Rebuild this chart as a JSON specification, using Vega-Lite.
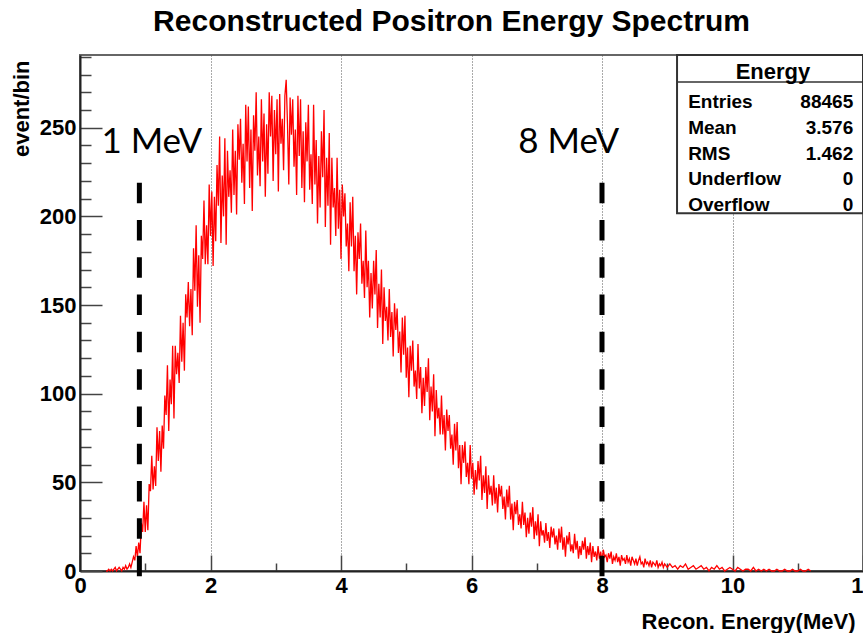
{
  "$schema": "https://vega.github.io/schema/vega-lite/v6.json",
  "width": 783,
  "height": 516,
  "autosize": {"type": "none"},
  "padding": {"left": 80, "top": 55, "right": 0, "bottom": 62},
  "title": {"text": "Reconstructed Positron Energy Spectrum", "font": "Liberation Sans", "fontSize": 30, "fontWeight": "bold", "color": "#000000", "anchor": "middle", "dx": -20, "dy": 37, "offset": 22, "baseline": "alphabetic"},
  "config": {
    "font": "Liberation Sans",
    "view": {"stroke": "#666666", "strokeWidth": 2},
    "axis": {"labelFont": "Liberation Sans", "labelFontWeight": "bold", "labelFontSize": 22, "labelColor": "#000000", "titleFont": "Liberation Sans", "titleFontWeight": "bold", "titleFontSize": 22, "titleColor": "#000000", "domainColor": "#222222", "domainWidth": 2, "tickColor": "#444444", "tickWidth": 1.5}
  },
  "resolve": {"scale": {"y": "independent"}, "axis": {"y": "independent"}},
  "layer": [
    {
      "layer": [
        {
          "data": {"values": [
{"e":0.4,"n":0},{"e":0.42,"n":0},{"e":0.44,"n":1},{"e":0.46,"n":0},{"e":0.48,"n":1},{"e":0.5,"n":0},{"e":0.52,"n":1},{"e":0.54,"n":2},{"e":0.56,"n":0},{"e":0.58,"n":1},{"e":0.6,"n":2},{"e":0.62,"n":1},{"e":0.64,"n":0},{"e":0.66,"n":2},{"e":0.68,"n":1},{"e":0.7,"n":3},{"e":0.72,"n":1},{"e":0.74,"n":2},{"e":0.76,"n":4},{"e":0.78,"n":2},{"e":0.8,"n":5},{"e":0.82,"n":8},{"e":0.84,"n":6},
{"e":0.86,"n":14},{"e":0.88,"n":8},{"e":0.9,"n":16},{"e":0.92,"n":10},{"e":0.94,"n":27},{"e":0.96,"n":22},{"e":0.98,"n":39},{"e":1.0,"n":22},{"e":1.02,"n":37},{"e":1.04,"n":23},{"e":1.06,"n":49},{"e":1.08,"n":45},{"e":1.1,"n":65},{"e":1.12,"n":46},{"e":1.14,"n":59},{"e":1.16,"n":48},{"e":1.18,"n":81},{"e":1.2,"n":62},{"e":1.22,"n":79},{"e":1.24,"n":56},{"e":1.26,"n":82},{"e":1.28,"n":69},{"e":1.3,"n":99},{"e":1.32,"n":88},{"e":1.34,"n":116},{"e":1.36,"n":79},{"e":1.38,"n":108},{"e":1.4,"n":94},{"e":1.42,"n":127},{"e":1.44,"n":86},{"e":1.46,"n":127},{"e":1.48,"n":111},{"e":1.5,"n":123},{"e":1.52,"n":106},{"e":1.54,"n":144},{"e":1.56,"n":118},{"e":1.58,"n":140},{"e":1.6,"n":113},{"e":1.62,"n":156},{"e":1.64,"n":143},{"e":1.66,"n":163},{"e":1.68,"n":138},{"e":1.7,"n":159},{"e":1.72,"n":133},{"e":1.74,"n":182},{"e":1.76,"n":158},{"e":1.78,"n":195},{"e":1.8,"n":149},{"e":1.82,"n":178},{"e":1.84,"n":140},{"e":1.86,"n":189},{"e":1.88,"n":176},{"e":1.9,"n":209},{"e":1.92,"n":173},{"e":1.94,"n":195},{"e":1.96,"n":173},{"e":1.98,"n":218},{"e":2.0,"n":189},
{"e":2.02,"n":214},{"e":2.04,"n":172},{"e":2.06,"n":211},{"e":2.08,"n":186},{"e":2.1,"n":229},{"e":2.12,"n":206},{"e":2.14,"n":245},{"e":2.16,"n":185},{"e":2.18,"n":223},{"e":2.2,"n":200},{"e":2.22,"n":244},{"e":2.24,"n":184},{"e":2.26,"n":237},{"e":2.28,"n":211},{"e":2.3,"n":226},{"e":2.32,"n":202},{"e":2.34,"n":249},{"e":2.36,"n":212},{"e":2.38,"n":237},{"e":2.4,"n":201},{"e":2.42,"n":252},{"e":2.44,"n":232},{"e":2.46,"n":255},{"e":2.48,"n":219},{"e":2.5,"n":241},{"e":2.52,"n":207},{"e":2.54,"n":263},{"e":2.56,"n":231},{"e":2.58,"n":262},{"e":2.6,"n":216},{"e":2.62,"n":249},{"e":2.64,"n":203},{"e":2.66,"n":257},{"e":2.68,"n":237},{"e":2.7,"n":270},{"e":2.72,"n":223},{"e":2.74,"n":245},{"e":2.76,"n":217},{"e":2.78,"n":266},{"e":2.8,"n":231},{"e":2.82,"n":258},{"e":2.84,"n":211},{"e":2.86,"n":252},{"e":2.88,"n":224},{"e":2.9,"n":270},{"e":2.92,"n":245},{"e":2.94,"n":268},{"e":2.96,"n":220},{"e":2.98,"n":260},{"e":3.0,"n":235},
{"e":3.02,"n":266},{"e":3.04,"n":214},{"e":3.06,"n":269},{"e":3.08,"n":241},{"e":3.1,"n":255},{"e":3.12,"n":226},{"e":3.14,"n":268},{"e":3.16,"n":277},{"e":3.18,"n":252},{"e":3.2,"n":218},{"e":3.22,"n":267},{"e":3.24,"n":246},{"e":3.26,"n":266},{"e":3.28,"n":228},{"e":3.3,"n":249},{"e":3.32,"n":212},{"e":3.34,"n":268},{"e":3.36,"n":234},{"e":3.38,"n":266},{"e":3.4,"n":216},{"e":3.42,"n":248},{"e":3.44,"n":208},{"e":3.46,"n":253},{"e":3.48,"n":231},{"e":3.5,"n":263},{"e":3.52,"n":215},{"e":3.54,"n":235},{"e":3.56,"n":207},{"e":3.58,"n":263},{"e":3.6,"n":218},{"e":3.62,"n":243},{"e":3.64,"n":196},{"e":3.66,"n":234},{"e":3.68,"n":205},{"e":3.7,"n":248},{"e":3.72,"n":222},{"e":3.74,"n":260},{"e":3.76,"n":194},{"e":3.78,"n":233},{"e":3.8,"n":206},{"e":3.82,"n":247},{"e":3.84,"n":184},{"e":3.86,"n":233},{"e":3.88,"n":205},{"e":3.9,"n":216},{"e":3.92,"n":189},{"e":3.94,"n":233},{"e":3.96,"n":193},{"e":3.98,"n":215},{"e":4.0,"n":176},
{"e":4.02,"n":218},{"e":4.04,"n":200},{"e":4.06,"n":213},{"e":4.08,"n":183},{"e":4.1,"n":196},{"e":4.12,"n":169},{"e":4.14,"n":208},{"e":4.16,"n":183},{"e":4.18,"n":211},{"e":4.2,"n":169},{"e":4.22,"n":189},{"e":4.24,"n":156},{"e":4.26,"n":191},{"e":4.28,"n":176},{"e":4.3,"n":196},{"e":4.32,"n":162},{"e":4.34,"n":175},{"e":4.36,"n":154},{"e":4.38,"n":192},{"e":4.4,"n":160},{"e":4.42,"n":175},{"e":4.44,"n":143},{"e":4.46,"n":168},{"e":4.48,"n":148},{"e":4.5,"n":175},{"e":4.52,"n":156},{"e":4.54,"n":181},{"e":4.56,"n":137},{"e":4.58,"n":162},{"e":4.6,"n":143},{"e":4.62,"n":170},{"e":4.64,"n":128},{"e":4.66,"n":160},{"e":4.68,"n":141},{"e":4.7,"n":149},{"e":4.72,"n":130},{"e":4.74,"n":159},{"e":4.76,"n":132},{"e":4.78,"n":146},{"e":4.8,"n":121},{"e":4.82,"n":151},{"e":4.84,"n":136},{"e":4.86,"n":148},{"e":4.88,"n":123},{"e":4.9,"n":135},{"e":4.92,"n":112},{"e":4.94,"n":143},{"e":4.96,"n":122},{"e":4.98,"n":144},{"e":5.0,"n":109},
{"e":5.02,"n":126},{"e":5.04,"n":98},{"e":5.06,"n":127},{"e":5.08,"n":113},{"e":5.1,"n":130},{"e":5.12,"n":104},{"e":5.14,"n":113},{"e":5.16,"n":97},{"e":5.18,"n":128},{"e":5.2,"n":103},{"e":5.22,"n":115},{"e":5.24,"n":89},{"e":5.26,"n":109},{"e":5.28,"n":93},{"e":5.3,"n":115},{"e":5.32,"n":101},{"e":5.34,"n":120},{"e":5.36,"n":85},{"e":5.38,"n":104},{"e":5.4,"n":90},{"e":5.42,"n":111},{"e":5.44,"n":76},{"e":5.46,"n":102},{"e":5.48,"n":86},{"e":5.5,"n":92},{"e":5.52,"n":77},{"e":5.54,"n":99},{"e":5.56,"n":77},{"e":5.58,"n":88},{"e":5.6,"n":68},{"e":5.62,"n":91},{"e":5.64,"n":79},{"e":5.66,"n":88},{"e":5.68,"n":69},{"e":5.7,"n":77},{"e":5.72,"n":60},{"e":5.74,"n":83},{"e":5.76,"n":68},{"e":5.78,"n":84},{"e":5.8,"n":58},{"e":5.82,"n":71},{"e":5.84,"n":49},{"e":5.86,"n":71},{"e":5.88,"n":61},{"e":5.9,"n":73},{"e":5.92,"n":53},{"e":5.94,"n":61},{"e":5.96,"n":49},{"e":5.98,"n":71},{"e":6.0,"n":52},
{"e":6.02,"n":61},{"e":6.04,"n":43},{"e":6.06,"n":57},{"e":6.08,"n":46},{"e":6.1,"n":62},{"e":6.12,"n":51},{"e":6.14,"n":65},{"e":6.16,"n":40},{"e":6.18,"n":54},{"e":6.2,"n":44},{"e":6.22,"n":59},{"e":6.24,"n":35},{"e":6.26,"n":54},{"e":6.28,"n":43},{"e":6.3,"n":48},{"e":6.32,"n":37},{"e":6.34,"n":54},{"e":6.36,"n":38},{"e":6.38,"n":47},{"e":6.4,"n":33},{"e":6.42,"n":49},{"e":6.44,"n":42},{"e":6.46,"n":48},{"e":6.48,"n":35},{"e":6.5,"n":42},{"e":6.52,"n":29},{"e":6.54,"n":46},{"e":6.56,"n":36},{"e":6.58,"n":48},{"e":6.6,"n":29},{"e":6.62,"n":38},{"e":6.64,"n":23},{"e":6.66,"n":39},{"e":6.68,"n":32},{"e":6.7,"n":40},{"e":6.72,"n":26},{"e":6.74,"n":32},{"e":6.76,"n":24},{"e":6.78,"n":39},{"e":6.8,"n":26},{"e":6.82,"n":33},{"e":6.84,"n":19},{"e":6.86,"n":30},{"e":6.88,"n":21},{"e":6.9,"n":33},{"e":6.92,"n":25},{"e":6.94,"n":36},{"e":6.96,"n":18},{"e":6.98,"n":28},{"e":7.0,"n":20},
{"e":7.02,"n":32},{"e":7.04,"n":14},{"e":7.06,"n":28},{"e":7.08,"n":20},{"e":7.1,"n":23},{"e":7.12,"n":16},{"e":7.14,"n":27},{"e":7.16,"n":17},{"e":7.18,"n":22},{"e":7.2,"n":13},{"e":7.22,"n":25},{"e":7.24,"n":19},{"e":7.26,"n":24},{"e":7.28,"n":15},{"e":7.3,"n":20},{"e":7.32,"n":12},{"e":7.34,"n":24},{"e":7.36,"n":16},{"e":7.38,"n":25},{"e":7.4,"n":12},{"e":7.42,"n":19},{"e":7.44,"n":8},{"e":7.46,"n":20},{"e":7.48,"n":15},{"e":7.5,"n":22},{"e":7.52,"n":11},{"e":7.54,"n":15},{"e":7.56,"n":10},{"e":7.58,"n":21},{"e":7.6,"n":12},{"e":7.62,"n":17},{"e":7.64,"n":7},{"e":7.66,"n":14},{"e":7.68,"n":9},{"e":7.7,"n":17},{"e":7.72,"n":12},{"e":7.74,"n":19},{"e":7.76,"n":7},{"e":7.78,"n":14},{"e":7.8,"n":9},{"e":7.82,"n":16},{"e":7.84,"n":5},{"e":7.86,"n":14},{"e":7.88,"n":8},{"e":7.9,"n":11},{"e":7.92,"n":6},{"e":7.94,"n":14},{"e":7.96,"n":7},{"e":7.98,"n":11},{"e":8.0,"n":5},
{"e":8.02,"n":12},{"e":8.04,"n":8},{"e":8.06,"n":9},{"e":8.08,"n":5},{"e":8.1,"n":10},{"e":8.12,"n":7},{"e":8.14,"n":11},{"e":8.16,"n":4},{"e":8.18,"n":8},{"e":8.2,"n":6},{"e":8.22,"n":10},{"e":8.24,"n":5},{"e":8.26,"n":8},{"e":8.28,"n":3},{"e":8.3,"n":9},{"e":8.32,"n":6},{"e":8.34,"n":7},{"e":8.36,"n":4},{"e":8.38,"n":9},{"e":8.4,"n":5},{"e":8.42,"n":7},{"e":8.44,"n":3},{"e":8.46,"n":8},{"e":8.48,"n":6},{"e":8.5,"n":4},{"e":8.52,"n":7},{"e":8.54,"n":3},{"e":8.56,"n":6},{"e":8.58,"n":8},{"e":8.6,"n":4},{"e":8.62,"n":5},{"e":8.64,"n":2},{"e":8.66,"n":7},{"e":8.68,"n":4},{"e":8.7,"n":5},{"e":8.72,"n":3},{"e":8.74,"n":6},{"e":8.76,"n":2},{"e":8.78,"n":5},{"e":8.8,"n":4},{"e":8.82,"n":3},{"e":8.84,"n":6},{"e":8.86,"n":2},{"e":8.88,"n":4},{"e":8.9,"n":3},{"e":8.92,"n":5},{"e":8.94,"n":2},{"e":8.96,"n":4},{"e":8.98,"n":3},{"e":9.0,"n":2},
{"e":9.04,"n":4},{"e":9.08,"n":2},{"e":9.12,"n":3},{"e":9.16,"n":1},{"e":9.2,"n":3},{"e":9.24,"n":2},{"e":9.28,"n":4},{"e":9.32,"n":1},{"e":9.36,"n":2},{"e":9.4,"n":3},{"e":9.44,"n":1},{"e":9.48,"n":2},{"e":9.52,"n":3},{"e":9.56,"n":1},{"e":9.6,"n":2},{"e":9.64,"n":0},{"e":9.68,"n":2},{"e":9.72,"n":1},{"e":9.76,"n":3},{"e":9.8,"n":1},{"e":9.84,"n":2},{"e":9.88,"n":0},{"e":9.92,"n":1},{"e":9.96,"n":2},{"e":10.0,"n":1},{"e":10.04,"n":0},{"e":10.08,"n":2},{"e":10.12,"n":1},{"e":10.16,"n":0},{"e":10.2,"n":1},{"e":10.24,"n":1},{"e":10.28,"n":0},{"e":10.32,"n":2},{"e":10.36,"n":0},{"e":10.4,"n":1},{"e":10.44,"n":0},{"e":10.48,"n":1},{"e":10.52,"n":0},{"e":10.56,"n":1},{"e":10.6,"n":0},{"e":10.64,"n":0},{"e":10.68,"n":1},{"e":10.72,"n":0},{"e":10.76,"n":0},{"e":10.8,"n":1},{"e":10.84,"n":0},{"e":10.88,"n":0},{"e":10.92,"n":1},{"e":10.96,"n":0},{"e":11.0,"n":0},{"e":11.04,"n":1},{"e":11.08,"n":0},{"e":11.12,"n":0},{"e":11.16,"n":1},{"e":11.2,"n":0}
          ]},
          "mark": {"type": "line", "color": "#ff0000", "strokeWidth": 1.3},
          "encoding": {
            "x": {"field": "e", "type": "quantitative", "scale": {"domain": [0, 12], "nice": false, "zero": false},
              "axis": {
                "values": [0,0.5,1,1.5,2,2.5,3,3.5,4,4.5,5,5.5,6,6.5,7,7.5,8,8.5,9,9.5,10,10.5,11,11.5,12],
                "tickCount": 200,
                "format": "d",
                "labelExpr": "datum.value % 2 === 0 ? datum.label : ''",
                "tickSize": {"condition": {"test": "datum.value % 2 === 0", "value": -16}, "value": -8},
                "grid": true,
                "gridDash": [1, 2],
                "gridColor": "#555555",
                "gridWidth": 1,
                "gridOpacity": {"condition": {"test": "datum.value % 2 === 0 && datum.value > 0 && datum.value < 12", "value": 1}, "value": 0},
                "labelFlush": false,
                "labelOverlap": false,
                "labelPadding": 20,
                "title": "Recon. Energy(MeV)",
                "titleAnchor": "end",
                "titleAlign": "right",
                "titleBaseline": "alphabetic",
                "titleX": 775,
                "titleY": 57
              }},
            "y": {"field": "n", "type": "quantitative", "scale": {"domain": [0, 291], "nice": false, "zero": true},
              "axis": {
                "values": [0,10,20,30,40,50,60,70,80,90,100,110,120,130,140,150,160,170,180,190,200,210,220,230,240,250,260,270,280,290],
                "tickCount": 200,
                "format": "d",
                "labelExpr": "datum.value % 50 === 0 ? datum.label : ''",
                "tickSize": {"condition": {"test": "datum.value % 50 === 0", "value": -22}, "value": -11},
                "grid": false,
                "labelOverlap": false,
                "labelPadding": 26,
                "title": "event/bin",
                "titleAngle": -90,
                "titleAlign": "right",
                "titleBaseline": "top",
                "titleX": -69,
                "titleY": 5
              }}
          }
        },
        {
          "data": {"values": [{"e": 0.91, "label": "1 MeV"}, {"e": 8.0, "label": "8 MeV"}]},
          "layer": [
            {
              "mark": {"type": "rule", "color": "#000000", "strokeWidth": 5, "strokeDash": [20.5, 16.8]},
              "encoding": {
                "x": {"field": "e", "type": "quantitative"},
                "y": {"datum": 219, "type": "quantitative"},
                "y2": {"datum": -4.5}
              }
            },
            {
              "transform": [{"filter": "datum.label === '1 MeV'"}],
              "mark": {"type": "text", "font": "Lato", "fontSize": 35, "align": "center", "baseline": "alphabetic", "color": "#000000"},
              "encoding": {
                "x": {"datum": 1.1, "type": "quantitative"},
                "y": {"datum": 235.9, "type": "quantitative"},
                "text": {"field": "label"}
              }
            },
            {
              "transform": [{"filter": "datum.label === '8 MeV'"}],
              "mark": {"type": "text", "font": "Lato", "fontSize": 35, "align": "center", "baseline": "alphabetic", "color": "#000000"},
              "encoding": {
                "x": {"datum": 7.49, "type": "quantitative"},
                "y": {"datum": 235.9, "type": "quantitative"},
                "text": {"field": "label"}
              }
            }
          ]
        },
        {
          "data": {"values": [{"name": "Energy"}]},
          "layer": [
            {
              "mark": {"type": "rect", "fill": "#ffffff", "stroke": "#333333", "strokeWidth": 2},
              "encoding": {
                "x": {"datum": 9.15, "type": "quantitative"},
                "x2": {"datum": 12},
                "y": {"datum": 291, "type": "quantitative"},
                "y2": {"datum": 201.8}
              }
            },
            {
              "mark": {"type": "rule", "color": "#333333", "strokeWidth": 1.5},
              "encoding": {
                "x": {"datum": 9.15, "type": "quantitative"},
                "x2": {"datum": 12},
                "y": {"datum": 275.8, "type": "quantitative"}
              }
            },
            {
              "mark": {"type": "text", "font": "Liberation Sans", "fontWeight": "bold", "fontSize": 22, "align": "center", "baseline": "middle", "color": "#000000"},
              "encoding": {
                "x": {"datum": 10.62, "type": "quantitative"},
                "y": {"datum": 281.4, "type": "quantitative"},
                "text": {"field": "name"}
              }
            }
          ]
        }
      ]
    },
    {
      "data": {"values": [
        {"k": "Entries", "v": "88465"},
        {"k": "Mean", "v": "3.576"},
        {"k": "RMS", "v": "1.462"},
        {"k": "Underflow", "v": "0"},
        {"k": "Overflow", "v": "0"}
      ]},
      "layer": [
        {
          "mark": {"type": "text", "font": "Liberation Sans", "fontWeight": "bold", "fontSize": 19, "align": "left", "baseline": "middle", "color": "#000000"},
          "encoding": {
            "x": {"datum": 9.32, "type": "quantitative"},
            "y": {"field": "k", "type": "nominal", "sort": null, "scale": {"type": "point", "domain": ["Entries", "Mean", "RMS", "Underflow", "Overflow"], "range": [47, 150], "padding": 0}, "axis": null},
            "text": {"field": "k"}
          }
        },
        {
          "mark": {"type": "text", "font": "Liberation Sans", "fontWeight": "bold", "fontSize": 19, "align": "right", "baseline": "middle", "color": "#000000"},
          "encoding": {
            "x": {"datum": 11.85, "type": "quantitative"},
            "y": {"field": "k", "type": "nominal", "sort": null, "axis": null},
            "text": {"field": "v"}
          }
        }
      ]
    }
  ]
}
